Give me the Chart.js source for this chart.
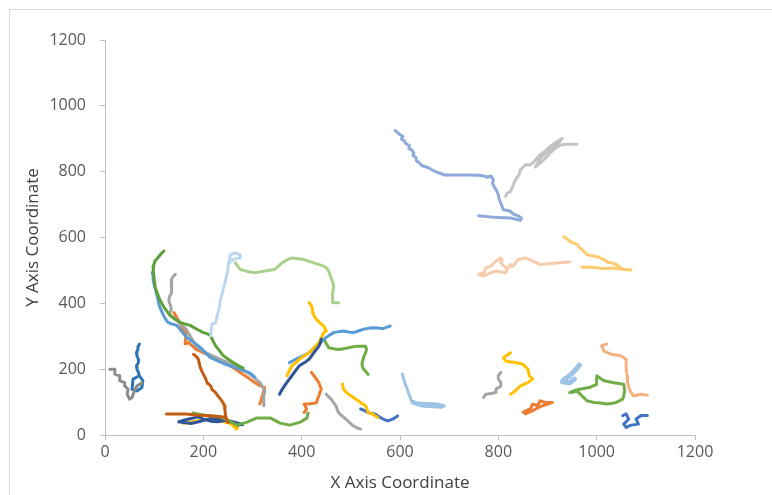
<!DOCTYPE html>
<html>
<head>
<meta charset="utf-8">
<script src="https://cdn.jsdelivr.net/npm/chart.js@4"></script>
<style>
  html, body { margin: 0; padding: 0; background: #fff; overflow: hidden; }
  #frame { position: absolute; left: 9px; top: 9px; width: 800px; height: 600px; border: 1px solid #d9d9d9; }
  #plot { position: absolute; left: 0; top: 0; }
</style>
</head>
<body>
<div id="frame"></div>
<canvas id="plot" width="772" height="495"></canvas>
<script>
// tracked paths, [x, y] in pixel-coordinate units
const pathLavender = [[590,925],[596,918],[600,912],[606,907],[603,899],[609,893],[612,885],[619,879],[618,870],[624,866],[628,857],[627,848],[633,842],[633,834],[638,828],[645,818],[652,815],[658,812],[665,806],[672,800],[680,796],[690,790],[735,790],[760,789],[770,787],[778,783],[785,787],[790,775],[788,765],[791,755],[796,744],[800,730],[802,715],[805,705],[808,693],[810,684],[820,682],[825,679],[830,672],[835,669],[842,664],[847,659],[845,652],[825,659],[800,661],[785,662],[760,666]];
const pathSilver = [[815,725],[818,735],[825,740],[830,758],[835,776],[842,790],[845,806],[855,821],[862,820],[870,826],[878,840],[885,851],[895,862],[905,876],[918,890],[930,901],[925,891],[910,875],[895,855],[885,840],[875,814],[885,826],[895,840],[905,856],[915,870],[925,880],[935,883],[960,883]];
const pathBlush = [[945,526],[915,522],[885,518],[870,528],[855,538],[840,533],[830,513],[815,508],[805,523],[808,532],[805,538],[795,528],[785,513],[775,508],[770,493],[760,488],[770,483],[785,493],[795,498],[805,495],[815,493],[820,508],[825,518]];
const pathApricot = [[933,602],[940,596],[945,589],[952,584],[960,579],[965,570],[970,563],[976,555],[980,548],[995,543],[1005,540],[1015,533],[1022,525],[1030,523],[1040,518],[1045,513],[1050,506],[1055,503],[1070,501],[1045,505],[1030,507],[1010,506],[990,510],[970,510]];
const pathSky = [[215,301],[217,336],[225,341],[227,355],[230,372],[233,392],[235,412],[238,428],[240,442],[244,462],[247,483],[250,500],[250,513],[253,533],[255,548],[265,553],[275,548],[275,538],[260,533],[253,523]];
const pathSage = [[265,523],[275,503],[290,497],[305,493],[325,498],[345,503],[360,523],[370,532],[380,538],[405,533],[425,523],[445,513],[452,505],[455,497],[460,477],[463,465],[465,452],[463,432],[463,402],[475,402]];
const pathGreenLong = [[120,559],[115,552],[110,543],[104,532],[102,530],[99,515],[98,500],[100,475],[102,448],[107,428],[112,409],[121,386],[132,364],[142,352],[153,342],[163,337],[173,333],[186,322],[199,312],[207,308],[214,303],[219,288],[224,273],[232,258],[240,242],[250,231],[260,221],[270,212],[281,203]];
const pathBlueLong = [[96,494],[98,482],[98,470],[103,440],[108,409],[111,390],[116,373],[121,357],[128,342],[137,337],[146,333],[156,315],[166,297],[180,282],[193,267],[203,252],[214,236],[227,227],[240,218],[254,210],[268,203],[282,196],[295,188],[300,182],[305,176]];
const pathGrayLong = [[143,488],[138,480],[135,472],[136,452],[135,432],[131,420],[130,407],[133,395],[135,382],[130,366],[138,358],[145,351],[155,336],[165,321],[175,296],[185,270],[195,260],[205,250],[220,240],[235,230],[250,220],[265,210],[280,198],[295,185],[305,172],[315,159],[320,147],[325,134],[322,110],[323,89]];
const pathOrangeLong = [[140,372],[148,352],[155,332],[160,320],[165,311],[163,277],[170,281],[178,270],[185,260],[200,250],[215,240],[230,230],[245,220],[260,205],[275,190],[290,175],[305,159],[315,150],[325,144],[320,119],[315,94]];
const pathRust = [[180,245],[186,238],[190,230],[192,215],[195,200],[200,185],[205,170],[208,158],[215,149],[218,138],[225,129],[230,118],[235,109],[240,98],[243,89],[244,74],[245,59],[250,38]];
const pathRustLow = [[125,64],[145,64],[165,64],[185,61],[205,59],[225,57],[245,54]];
const pathGreenLow = [[179,67],[199,61],[234,55],[250,45],[268,30],[289,39],[309,52],[336,52],[356,36],[376,30],[397,39],[411,52],[413,67]];
const pathNavyLow = [[150,40],[160,45],[175,50],[190,55],[200,48],[215,42],[230,40],[245,45],[260,38],[270,30],[280,32],[265,38],[240,48],[215,50],[195,42],[175,35],[160,38],[150,40]];
const pathGoldLow = [[159,36],[185,42],[205,48],[230,45],[255,35],[268,18],[270,25]];
const pathNavyRise = [[355,124],[360,138],[365,149],[370,160],[375,170],[380,180],[385,190],[390,200],[395,210],[400,215],[408,222],[415,230],[420,240],[425,250],[430,260],[435,270],[438,280],[440,291]];
const pathGoldRise = [[370,180],[375,196],[380,210],[388,220],[395,230],[405,240],[415,250],[425,265],[435,281],[440,296],[445,311],[450,316],[445,331],[438,340],[430,351],[425,362],[423,372],[422,382],[420,392],[415,402]];
const pathBlueRise = [[375,220],[385,228],[395,235],[405,242],[415,250],[425,263],[435,276],[445,291],[455,302],[465,311],[475,314],[485,316],[495,313],[505,311],[515,316],[525,321],[535,324],[545,326],[555,325],[565,323],[572,327],[580,331]];
const pathGreenMid = [[445,291],[455,265],[465,262],[475,260],[485,262],[495,265],[505,268],[515,270],[530,270],[532,260],[530,250],[527,240],[525,230],[523,220],[523,210],[526,200],[530,194],[535,184]];
const pathOrangeMid = [[420,190],[425,180],[430,170],[435,159],[440,139],[437,129],[435,119],[432,108],[430,98],[415,94],[405,94],[410,79],[405,68]];
const pathGrayMid = [[450,124],[455,116],[460,109],[465,98],[470,88],[472,78],[475,68],[482,58],[490,48],[497,38],[505,28],[512,22],[520,18]];
const pathGoldMid = [[483,155],[485,139],[492,128],[500,119],[508,111],[515,104],[522,96],[530,89],[533,78],[535,68],[545,63],[550,58],[555,53]];
const pathRoyalMid = [[520,79],[528,74],[535,68],[550,63],[560,53],[568,47],[575,43],[585,48],[595,58]];
const pathPaleBlue = [[605,185],[607,172],[610,159],[612,149],[615,139],[617,128],[620,119],[622,108],[625,98],[635,92],[645,88],[665,86],[685,84],[690,89],[675,94],[655,96],[635,97],[623,104]];
const pathGrayRight = [[805,190],[800,180],[800,170],[805,160],[805,149],[795,139],[795,129],[785,126],[775,124],[770,114]];
const pathGoldRight = [[825,250],[810,235],[815,225],[825,222],[835,220],[850,215],[860,200],[863,180],[870,170],[860,159],[852,154],[845,149],[838,139],[830,129],[825,124]];
const pathOrangeRight = [[850,69],[858,75],[865,79],[870,94],[880,89],[885,104],[895,99],[910,99],[890,89],[880,82],[870,74],[855,64]];
const pathPaleBlob = [[965,212],[960,203],[955,195],[950,187],[945,180],[935,170],[930,162],[945,159],[955,170]];
const pathGreenRight = [[945,129],[955,135],[965,139],[985,144],[1000,154],[1000,180],[1008,172],[1015,165],[1035,159],[1055,154],[1057,134],[1055,120],[1053,109],[1040,99],[1030,96],[1020,94],[1008,97],[995,99],[980,104],[975,112],[970,119],[960,134],[950,129]];
const pathSalmonRight = [[1020,276],[1010,271],[1015,255],[1030,245],[1050,240],[1060,230],[1060,215],[1060,200],[1062,180],[1063,159],[1065,144],[1070,129],[1075,119],[1090,124],[1103,121]];
const pathRoyalRight = [[1053,59],[1060,64],[1065,48],[1055,33],[1060,23],[1070,30],[1085,33],[1080,48],[1090,59],[1103,59]];
const pathGrayLeft = [[10,200],[20,200],[20,185],[30,180],[30,165],[40,159],[40,149],[47,139],[45,124],[50,109],[55,114],[60,134],[65,149],[75,159]];
const pathBlueLeft = [[70,276],[67,268],[67,260],[64,250],[65,240],[68,230],[68,220],[64,210],[65,200],[68,190],[70,180],[77,165],[75,144],[65,134],[55,139],[57,170],[70,180]];

const axisTicks = [0, 200, 400, 600, 800, 1000, 1200];

const paths = [
  pathLavender, pathSilver, pathBlush, pathApricot, pathSky, pathSage,
  pathGreenLong, pathBlueLong, pathGrayLong, pathOrangeLong, pathRust, pathRustLow,
  pathGreenLow, pathNavyLow, pathGoldLow, pathNavyRise, pathGoldRise, pathBlueRise,
  pathGreenMid, pathOrangeMid, pathGrayMid, pathGoldMid, pathRoyalMid, pathPaleBlue,
  pathGrayRight, pathGoldRight, pathOrangeRight, pathPaleBlob, pathGreenRight,
  pathSalmonRight, pathRoyalRight, pathGrayLeft, pathBlueLeft
];
const pathColors = [
  '#8EA9DB', '#C3C3C3', '#F8CBAD', '#FFCA70', '#BDD7EE', '#A9D18E',
  '#5FA13A', '#5B9BD5', '#A5A5A5', '#ED7D31', '#C55A11', '#C55A11',
  '#70AD47', '#2F5597', '#FFC000', '#2F5597', '#FFC000', '#5B9BD5',
  '#70AD47', '#ED7D31', '#A5A5A5', '#FFC000', '#4472C4', '#9DC3E6',
  '#A5A5A5', '#FFC000', '#ED7D31', '#9DC3E6', '#70AD47',
  '#F4B183', '#4472C4', '#8C8C8C', '#2E75B6'
];

const datasets = paths.map((p, i) => ({
  data: p.map(([x, y]) => ({ x, y })),
  showLine: true,
  borderColor: pathColors[i],
  borderWidth: i === 27 ? 5 : 3,
  pointRadius: 0,
  fill: false,
  borderJoinStyle: 'round',
  borderCapStyle: 'round'
}));

const tickFont = { family: "'Open Sans', sans-serif", size: 16 };
const titleFont = { family: "'Open Sans', sans-serif", size: 17 };

function axis(title, pad) {
  return {
    type: 'linear',
    min: 0,
    max: 1200,
    afterBuildTicks: s => { s.ticks = axisTicks.map(v => ({ value: v })); },
    grid: { display: true, drawOnChartArea: false, drawTicks: true, tickLength: 5, color: '#BFBFBF' },
    border: { display: true, color: '#BFBFBF', width: 1 },
    ticks: { color: '#595959', font: tickFont, padding: pad, callback: v => String(v) },
    title: { display: true, text: title, color: '#404040', font: titleFont }
  };
}

const xAxis = axis('X Axis Coordinate', 3);
xAxis.title.padding = { top: 0, bottom: 2 };
xAxis.afterFit = s => { s.height = 60; };

const yAxis = axis('Y Axis Coordinate', 14);
yAxis.title.padding = { top: 23, bottom: 0 };
yAxis.afterFit = s => { s.width = 105; };

new Chart(document.getElementById('plot').getContext('2d'), {
  type: 'scatter',
  data: { datasets },
  options: {
    responsive: false,
    animation: false,
    layout: { padding: { left: 0, right: 77, top: 40, bottom: 0 } },
    plugins: { legend: { display: false }, tooltip: { enabled: false } },
    scales: { x: xAxis, y: yAxis }
  }
});
</script>
</body>
</html>
